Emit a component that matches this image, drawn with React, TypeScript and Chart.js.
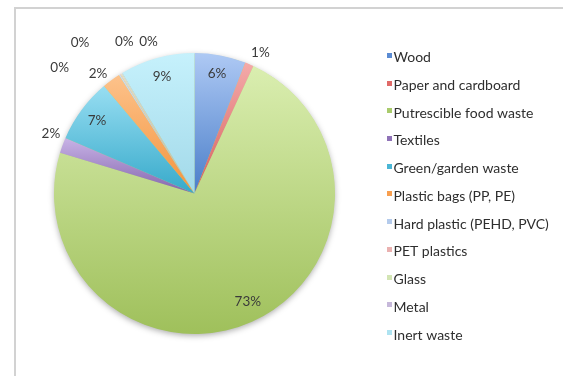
import { useEffect, useRef } from "react";
import { Chart, registerables } from "chart.js";

Chart.register(...registerables);

// ---- data ----
const categories = [
  "Wood",
  "Paper and cardboard",
  "Putrescible food waste",
  "Textiles",
  "Green/garden waste",
  "Plastic bags (PP, PE)",
  "Hard plastic (PEHD, PVC)",
  "PET plastics",
  "Glass",
  "Metal",
  "Inert waste",
];
const shares = [5.9, 1.0, 72.9, 1.8, 7.4, 2.1, 0.15, 0.1, 0.1, 0.1, 8.6];

// ---- styles ----
const topColors = ["#aec9f4", "#f4aaa9", "#daeeb0", "#c8b3e6", "#98def2", "#fdc28b", "#cddff5", "#f4d0cf", "#e6f1d2", "#e0d6ec", "#c6f1fc"];
const bottomColors = ["#4a7ec9", "#d6605e", "#9fc05b", "#8465ad", "#36a9ca", "#f3943d", "#a7bfe2", "#e0a2a1", "#c8dba3", "#b7a6cf", "#a2d9e9"];
const legendColors = ["#5a8bd3", "#e06a68", "#a9cb6c", "#8f72b7", "#4ab6d5", "#f89f4f", "#b4cbec", "#eab1b0", "#d3e5b4", "#c6b8da", "#aee3f1"];
const labelRadius = [0.87, 1.11, 0.86, 1.106, 0.865, 1.094, 1.313, 1.347, 1.193, 1.132, 0.865];
const labelAngleShift = [0, 2, -2, 2.4, 0, -2.6, -14.7, -5.4, 6.7, 14.3, 0];

const FONT = "Lato, 'Open Sans', sans-serif";

function sliceGradient(ctx: CanvasRenderingContext2D, area: any, i: number) {
  if (!area) return legendColors[i];
  const cx = (area.left + area.right) / 2;
  const cy = (area.top + area.bottom) / 2;
  const R = Math.min(area.right - area.left, area.bottom - area.top) / 2;
  const total = shares.reduce((a, b) => a + b, 0);
  let before = 0;
  for (let k = 0; k < i; k++) before += shares[k];
  const a0 = -Math.PI / 2 + (2 * Math.PI * before) / total;
  const a1 = a0 + (2 * Math.PI * shares[i]) / total;
  const ys = [cy, cy + R * Math.sin(a0), cy + R * Math.sin(a1)];
  if (a0 <= -Math.PI / 2 + 1e-6 || a1 >= (3 * Math.PI) / 2 - 1e-6) ys.push(cy - R);
  if (a0 < Math.PI / 2 && a1 > Math.PI / 2) ys.push(cy + R);
  const y0 = Math.min(...ys);
  const y1 = Math.max(...ys);
  const g = ctx.createLinearGradient(0, y0, 0, Math.max(y1, y0 + 1));
  g.addColorStop(0, topColors[i]);
  g.addColorStop(1, bottomColors[i]);
  return g;
}

const shadowPlugin = {
  id: "pieShadow",
  beforeDatasetsDraw(chart: any) {
    const meta = chart.getDatasetMeta(0);
    const arc = meta.data[0];
    if (!arc) return;
    const ctx = chart.ctx;
    ctx.save();
    ctx.shadowColor = "rgba(0,0,0,0.35)";
    ctx.shadowBlur = 6;
    ctx.shadowOffsetY = 2;
    ctx.beginPath();
    ctx.arc(arc.x, arc.y, arc.outerRadius - 0.5, 0, Math.PI * 2);
    ctx.fillStyle = "#b5d27a";
    ctx.fill();
    ctx.restore();
  },
};

const labelPlugin = {
  id: "sliceLabels",
  afterDatasetsDraw(chart: any) {
    const meta = chart.getDatasetMeta(0);
    const ctx = chart.ctx;
    const total = shares.reduce((a, b) => a + b, 0);
    ctx.save();
    ctx.font = `13.5px ${FONT}`;
    ctx.fillStyle = "#3a3a3a";
    ctx.textAlign = "center";
    ctx.textBaseline = "middle";
    meta.data.forEach((arc: any, i: number) => {
      const mid = (arc.startAngle + arc.endAngle) / 2 + (labelAngleShift[i] * Math.PI) / 180;
      const r = arc.outerRadius * labelRadius[i];
      const txt = Math.round((shares[i] / total) * 100) + "%";
      ctx.fillText(txt, arc.x + r * Math.cos(mid), arc.y + r * Math.sin(mid));
    });
    ctx.restore();
  },
};

const legendPlugin = {
  id: "sideLegend",
  afterDraw(chart: any) {
    const ctx = chart.ctx;
    const x = 387;
    const baseline0 = 62.3;
    const step = 27.73;
    ctx.save();
    ctx.font = `14px ${FONT}`;
    ctx.textBaseline = "alphabetic";
    ctx.textAlign = "left";
    categories.forEach((name, i) => {
      const b = baseline0 + i * step;
      ctx.fillStyle = legendColors[i];
      ctx.fillRect(x, Math.round(b - 9.5), 5, 5);
      ctx.fillStyle = "#2e2e2e";
      ctx.fillText(name, x + 6.5, b);
    });
    ctx.restore();
  },
};

export default function App() {
  const ref = useRef<HTMLCanvasElement>(null);
  useEffect(() => {
    if (!ref.current) return;
    const chart = new Chart(ref.current, {
      type: "pie",
      data: {
        labels: categories,
        datasets: [
          {
            data: shares,
            backgroundColor: (c: any) => sliceGradient(c.chart.ctx, c.chart.chartArea, c.dataIndex),
            borderWidth: 0,
            hoverOffset: 0,
          },
        ],
      },
      options: {
        responsive: false,
        animation: false,
        events: [],
        layout: { padding: { left: 54, top: 53, right: 228, bottom: 42 } },
        plugins: { legend: { display: false }, tooltip: { enabled: false } },
      },
      plugins: [shadowPlugin, labelPlugin, legendPlugin],
    });
    return () => chart.destroy();
  }, []);
  return (
    <div style={{ position: "fixed", left: 0, top: 0, width: 563, height: 376, background: "#fff", overflow: "hidden" }}>
      <div
        style={{
          position: "absolute",
          left: 14,
          top: 7,
          width: 600,
          height: 400,
          borderLeft: "2px solid #d2d2d2",
          borderTop: "2px solid #d2d2d2",
        }}
      />
      <canvas ref={ref} width={563} height={376} style={{ position: "absolute", left: 0, top: 0 }} />
    </div>
  );
}
